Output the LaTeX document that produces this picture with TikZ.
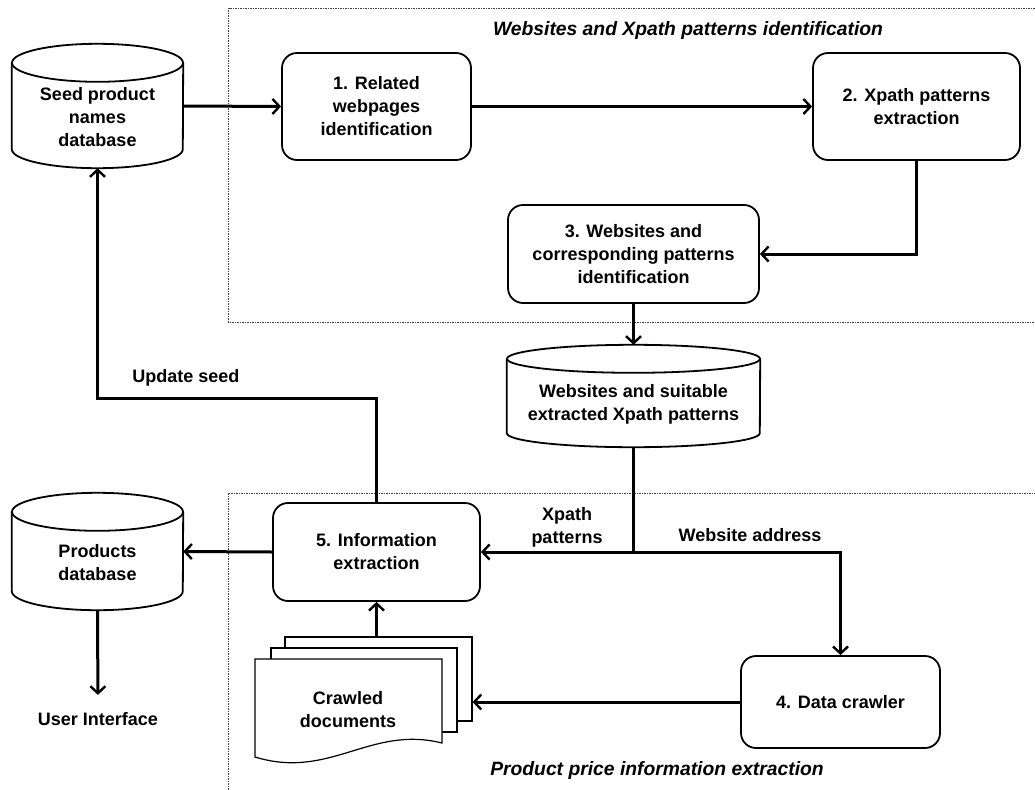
\documentclass[tikz,border=0pt]{standalone}
\usepackage{fontspec}
\setmainfont{Liberation Sans}
\usetikzlibrary{arrows.meta,calc}
\newcommand{\bigfont}{\fontsize{18pt}{23pt}\selectfont}
\newcommand{\ttlfont}{\fontsize{19.3pt}{23pt}\selectfont}
\tikzset{
  box/.style={draw, line width=1.8pt, rounded corners=15pt, align=center, font=\bigfont\bfseries, fill=white},
  cylbox/.style={draw=none, align=center, font=\bigfont\bfseries},
  arr/.style={line width=3pt, -{Straight Barb[length=7pt,width=15pt,line width=2.4pt]}},
  frame/.style={draw=black!75, line width=0.7pt, dash pattern=on 1.5pt off 1pt},
  lbl/.style={font=\bigfont\bfseries, align=center},
  ttl/.style={font=\ttlfont\bfseries\itshape},
  page/.style={draw, line width=1.2pt, fill=white}
}
\newcommand{\mycyl}[2]{% node name, ry
  \draw[line width=1.8pt, fill=white]
    ($(#1.north west)+(0,#2)$) -- ($(#1.south west)-(0,#2)$)
    arc[start angle=180, end angle=0, x radius={0.5*(\pgfkeysvalueof{/tikz/cylw})}, y radius=#2]
    -- ($(#1.north east)+(0,#2)$);
  \draw[line width=1.8pt] ($(#1.north)+(0,#2)$) ellipse[x radius={0.5*(\pgfkeysvalueof{/tikz/cylw})}, y radius=#2];
}
\pgfkeyssetvalue{/tikz/cylw}{171}
\begin{document}
\begin{tikzpicture}[x=1pt,y=-1pt]
\clip (0,0) rectangle (1035,789);
\fill[white] (0,0) rectangle (1035,789);
% frames
\draw[frame] (228.5,8) rectangle (1045,322);
\draw[frame] (228.5,493) rectangle (1045,800);
\node[ttl] (t1) at (688,31) {Websites and Xpath patterns identification};
\node[ttl] (t2) at (657,770) {Product price information extraction};

% cylinders
\node[cylbox, minimum width=171pt, minimum height=124pt] (seed) at (97.5,106) {};
\pgfkeyssetvalue{/tikz/cylw}{171}
\mycyl{seed}{19}
\node[cylbox] (seedtxt) at (97.5,117) {Seed product\\names\\database};

\node[cylbox, minimum width=171pt, minimum height=117pt] (prod) at (97.5,551.5) {};
\mycyl{prod}{19}
\node[cylbox] (prodtxt) at (97.5,563) {Products\\database};

\node[cylbox, minimum width=253pt, minimum height=102pt] (wcyl) at (633.5,396) {};
\pgfkeyssetvalue{/tikz/cylw}{253}
\mycyl{wcyl}{14}
\node[cylbox] (wtxt) at (633.5,404) {Websites and suitable\\extracted Xpath patterns};

% process boxes
\node[box, minimum width=189pt, minimum height=107pt] (b1) at (376.5,106.5) {1. Related\\webpages\\identification};
\node[box, minimum width=207pt, minimum height=107pt] (b2) at (916.5,106.5) {2. Xpath patterns\\extraction};
\node[box, minimum width=251pt, minimum height=98pt] (b3) at (633.5,254) {3. Websites and\\corresponding patterns\\identification};
\node[box, minimum width=207pt, minimum height=98pt] (b5) at (376.5,552) {5. Information\\extraction};
\node[box, minimum width=199pt, minimum height=92pt] (b4) at (840.5,702) {4. Data crawler};

% crawled documents
\node[page, minimum width=187pt, minimum height=84pt] (docback) at (378.5,679) {};
\node[page, minimum width=186pt, minimum height=84pt] (docmid) at (364,690) {};
\draw[page] (255,659) -- (442,659) -- (442,743)
  .. controls (370,725) and (330,780) .. (255,757) -- cycle;
\node[lbl] (docs) at (348,710) {Crawled\\documents};

% user interface
\node[lbl] (ui) at (98,719) {User Interface};

% labels
\node[lbl] (lus) at (186,378) {Update seed};
\node[lbl] (lxp) at (567,527) {Xpath\\patterns};
\node[lbl] (lwa) at (750,535) {Website address};

% connectors
\coordinate (us) at (0,398);
\draw[arr] (seed.east) -- (b1.west);
\draw[arr] (b1.east) -- (b2.west);
\draw[arr] (b2.south) |- (b3.east);
\draw[arr] (b3.south) -- (wcyl.north);
\coordinate (j) at (wcyl.south |- b5.east);
\draw[arr] (wcyl.south) |- (b5.east);
\draw[arr] (j) -| (b4.north);
\draw[arr] (b4.west) -- (b4.west -| docback.east);
\draw[arr] (docback.north -| b5.south) -- (b5.south);
\draw[arr] (b5.west) -- (prod.east);
\draw[arr, shorten >=14pt] (prod.south) -- (ui.north);
\draw[arr] (b5.north) -- (b5.north |- us) -| (seed.south);
\end{tikzpicture}
\end{document}
